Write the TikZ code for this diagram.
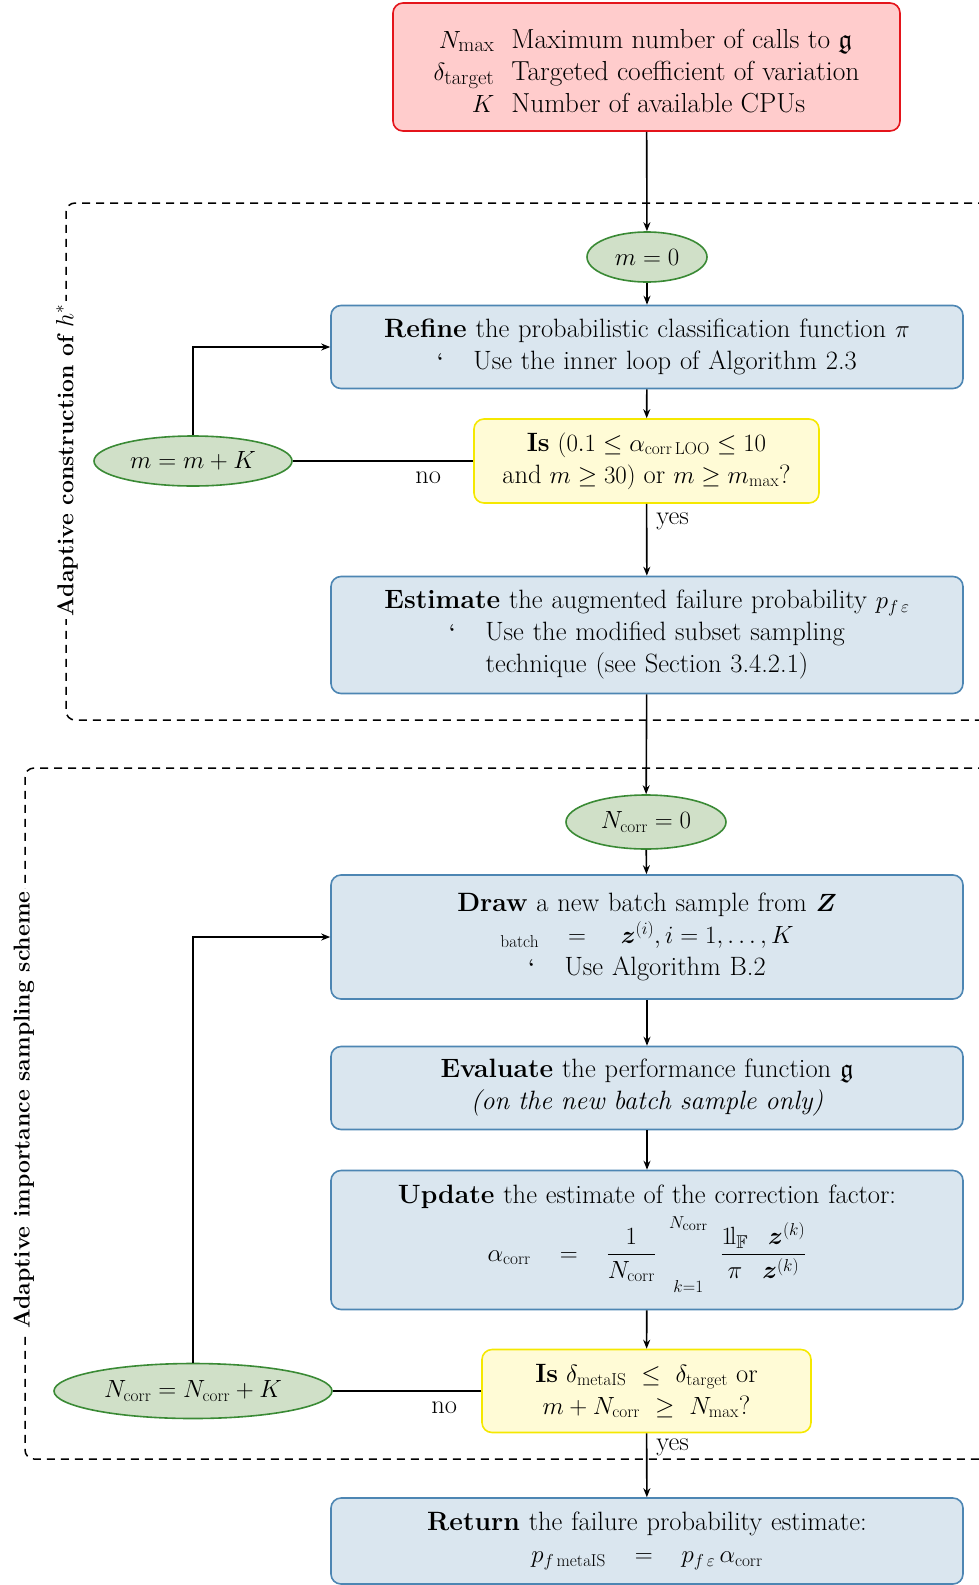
\documentclass[tikz,border=0pt]{standalone}
\usepackage{amsmath,amssymb}
\usetikzlibrary{shapes.geometric,arrows.meta}
\definecolor{redfill}{HTML}{FFCCCC}
\definecolor{redline}{HTML}{E4141B}
\definecolor{bluefill}{HTML}{DAE6EF}
\definecolor{blueline}{HTML}{4D86B3}
\definecolor{yellowfill}{HTML}{FFFBD6}
\definecolor{yellowline}{HTML}{F5E800}
\definecolor{greenfill}{HTML}{D0E0C8}
\definecolor{greenline}{HTML}{3A8A35}
\newcommand{\hookmark}{\raisebox{2pt}{\fontsize{20}{20}\selectfont\bfseries\textquoteleft}}
\newcommand{\indic}{\mathrm{1\hspace{-3pt}l}}
\begin{document}
\begin{tikzpicture}[x=1pt,y=-1pt,
  every node/.style={font=\fontsize{26.5}{32}\selectfont},
  basebox/.style={rounded corners=10pt, line width=1.6pt, align=center, inner sep=4pt},
  redbox/.style={basebox, draw=redline, fill=redfill},
  bluebox/.style={basebox, draw=blueline, fill=bluefill, minimum width=632, text width=610},
  yellowbox/.style={basebox, draw=yellowline, fill=yellowfill},
  greenell/.style={ellipse, draw=greenline, fill=greenfill, line width=1.6pt, inner sep=0pt},
  conn/.style={line width=1.6pt},
  arr/.style={conn, -{Stealth[length=9pt,width=7pt]}},
  frame/.style={line width=1.5pt, dash pattern=on 8pt off 6pt, rounded corners=9pt},
  framelabel/.style={rotate=90, fill=white, inner sep=3pt, font=\fontsize{23}{26}\selectfont\bfseries},
  lab/.style={inner sep=0pt}
]
\useasboundingbox (0,0) rectangle (979,1585);

% dashed frames
\draw[frame] (1000,203) -- (66,203) -- (66,720) -- (1000,720);
\node[framelabel] (lab1) at (67,460) {Adaptive construction of $h^*$};
\draw[frame] (1000,768) -- (25,768) -- (25,1459) -- (1000,1459);
\node[framelabel] (lab2) at (24,1110) {Adaptive importance sampling scheme};

% nodes
\node[redbox, minimum width=507, minimum height=128] (input) at (646.5,67)
  {\fontsize{27.5}{32}\selectfont
   \begin{tabular}{@{}r@{\hspace{17pt}}l@{}}
   \rule{0pt}{36pt}$N_{\max}$ & Maximum number of calls to $\mathfrak{g}$\\
   $\delta_{\mathrm{target}}$ & Targeted coefficient of variation\\
   $K$ & Number of available CPUs
   \end{tabular}};

\node[greenell, minimum width=120, minimum height=50] (m0) at (647,257) {$m=0$};

\node[bluebox, minimum height=83] (refine) at (647,347)
  {\textbf{Refine} the probabilistic classification function $\pi$\\
   \mbox{\hookmark\hspace{30pt}Use the inner loop of Algorithm 2.3}};

\node[yellowbox, minimum width=345, minimum height=84] (is1) at (646.5,461)
  {\mbox{\textbf{Is} $(0.1 \le \alpha_{\mathrm{corr\,LOO}} \le 10$}\\
   \mbox{and $m \ge 30)$ or $m \ge m_{\max}$?}};

\node[greenell, minimum width=198, minimum height=50] (inc1) at (193,461) {$m=m+K$};

\node[bluebox, minimum height=117] (estimate) at (647,635)
  {\textbf{Estimate} the augmented failure probability $p_{f\,\varepsilon}$\\
   \mbox{\hookmark\hspace{30pt}Use the modified subset sampling}\\
   technique (see Section 3.4.2.1)};

\node[greenell, minimum width=160, minimum height=54] (n0) at (646,822) {$N_{\mathrm{corr}}=0$};

\node[bluebox, minimum height=124] (drawb) at (647,937)
  {\textbf{Draw} a new batch sample from $\boldsymbol{Z}$\\
   \mbox{$_{\mathrm{batch}}\hspace{22pt}=\hspace{28pt}\boldsymbol{z}^{(i)}, i=1,\ldots,K$}\\
   \mbox{\hookmark\hspace{30pt}Use Algorithm B.2}};

\node[bluebox, minimum height=83] (evaluate) at (647,1088)
  {\textbf{Evaluate} the performance function $\mathfrak{g}$\\
   \textit{(on the new batch sample only)}};

\node[bluebox, minimum height=139] (update) at (647,1240)
  {\textbf{Update} the estimate of the correction factor:\\[4pt]
   \mbox{$\displaystyle \alpha_{\mathrm{corr}}\hspace{22pt}=\hspace{22pt}\frac{1}{N_{\mathrm{corr}}}\ \mathop{\phantom{\sum}}\limits_{k=1}^{N_{\mathrm{corr}}}\ \frac{\indic_{\mathbb{F}}\hspace{20pt}\boldsymbol{z}^{(k)}}{\pi\hspace{20pt}\boldsymbol{z}^{(k)}}$}};

\node[yellowbox, minimum width=329, minimum height=83] (is2) at (646.5,1391)
  {\mbox{\textbf{Is} $\delta_{\mathrm{metaIS}}\ \le\ \delta_{\mathrm{target}}$ or}\\
   \mbox{$m+N_{\mathrm{corr}}\ \ge\ N_{\max}$?}};

\node[greenell, minimum width=278, minimum height=55] (inc2) at (193,1391) {$N_{\mathrm{corr}}=N_{\mathrm{corr}}+K$};

\node[bluebox, minimum height=86] (ret) at (647,1541)
  {\textbf{Return} the failure probability estimate:\\
   \mbox{$p_{f\,\mathrm{metaIS}}\hspace{22pt}=\hspace{22pt}p_{f\,\varepsilon}\,\alpha_{\mathrm{corr}}$}};

% connectors
\draw[arr] (input) -- (m0);
\draw[arr] (m0) -- (refine);
\draw[arr] (refine) -- (is1);
\draw[arr] (is1) -- node[lab, pos=0.25, right=9pt] (yes1) {yes} (estimate);
\draw[conn] (is1.west) -- node[lab, pos=0.25, below=10pt] (no1) {no} (inc1.east);
\draw[arr] (inc1.north) |- (refine.west);
\draw[arr] (estimate) -- (n0);
\draw[arr] (n0) -- (drawb);
\draw[arr] (drawb) -- (evaluate);
\draw[arr] (evaluate) -- (update);
\draw[arr] (update) -- (is2);
\draw[arr] (is2) -- node[lab, pos=0.22, right=9pt] (yes2) {yes} (ret);
\draw[conn] (is2.west) -- node[lab, pos=0.25, below=10pt] (no2) {no} (inc2.east);
\draw[arr] (inc2.north) |- (drawb.west);
\end{tikzpicture}
\end{document}
